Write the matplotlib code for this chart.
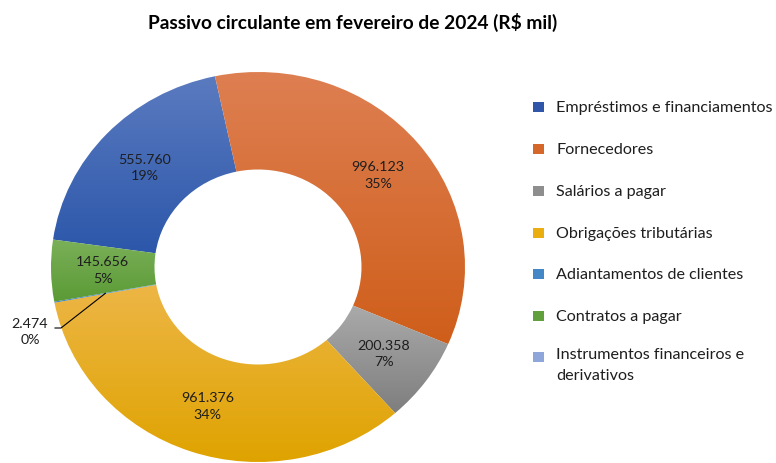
import numpy as np
import matplotlib
matplotlib.use("Agg")
import matplotlib.pyplot as plt
from matplotlib.patches import Rectangle
from matplotlib.colors import to_rgb

plt.rcParams['font.family'] = ['Lato', 'DejaVu Sans']

title = "Passivo circulante em fevereiro de 2024 (R$ mil)"
categories = ["Empréstimos e financiamentos", "Fornecedores", "Salários a pagar",
              "Obrigações tributárias", "Adiantamentos de clientes", "Contratos a pagar",
              "Instrumentos financeiros e\nderivativos"]
values = [555760, 996123, 200358, 961376, 2474, 145656, 0]
colors_top = ["#5B7BC0", "#DE7F52", "#AAAAAA", "#EDB646", "#6AA3D8", "#7BB059", "#A0B3E2"]
colors_bottom = ["#2C57AA", "#CF5E1A", "#7E7E7E", "#DFA300", "#3A7DBF", "#5A9A35", "#8099D6"]
legend_colors = ["#2F56A8", "#D6672A", "#8E8E8E", "#EBAE10", "#4487C6", "#62A03D", "#8FA6DB"]

W, H = 776, 464
fig = plt.figure(figsize=(W / 100, H / 100), dpi=100)

cx, cy, rx, ry = 258, 268, 207, 195
ax = fig.add_axes([(cx - rx) / W, (H - cy - ry) / H, 2 * rx / W, 2 * ry / H])

total = sum(values)
span0 = values[0] / total * 360
start = 102 + span0
wedges, _ = ax.pie(values, startangle=start, counterclock=False, radius=1.0,
                   wedgeprops=dict(width=0.5, edgecolor='none', linewidth=0))
ax.set_aspect('auto')
ax.axis('off')

# gradient fills clipped to each wedge
for w, v, ct, cb in zip(wedges, values, colors_top, colors_bottom):
    if v <= 0:
        w.set_visible(False)
        continue
    ext = w.get_path().get_extents()
    t = np.linspace(0, 1, 256)[:, None, None]
    grad = (1 - t) * np.array(to_rgb(ct))[None, None, :] + t * np.array(to_rgb(cb))[None, None, :]
    im = ax.imshow(grad, extent=(ext.x0, ext.x1, ext.y0, ext.y1), origin='upper',
                   aspect='auto', interpolation='bilinear', zorder=1)
    im.set_clip_path(w)
    w.set_facecolor('none')

ax.set_xlim(-1, 1)
ax.set_ylim(-1, 1)

def fmt(v):
    return f"{v:,}".replace(",", ".")

txtcol = "#1E1E1E"
lab_fs = 10.3
for w, v in zip(wedges, values):
    if v <= 0:
        continue
    mid = np.deg2rad((w.theta1 + w.theta2) / 2)
    pct = round(v / total * 100)
    lab = f"{fmt(v)}\n{pct}%"
    mx, my = 0.75 * np.cos(mid), 0.75 * np.sin(mid)
    if v / total < 0.01:
        lx, ly = (30 - cx) / rx, (cy - 332) / ry
        ex, ey = (61 - cx) / rx, (cy - 329) / ry
        hx = (55 - cx) / rx
        ax.plot([mx, ex, hx], [my, ey, ey], color='black', lw=0.8, clip_on=False, zorder=3)
        ax.text(lx, ly, lab, ha='center', va='center', fontsize=lab_fs, color=txtcol,
                linespacing=1.45, clip_on=False)
    else:
        ax.text(mx, my, lab, ha='center', va='center', fontsize=lab_fs, color=txtcol,
                linespacing=1.45, zorder=4)

fig.text(353 / W, 1 - 22 / H, title, ha='center', va='center', fontsize=13.8,
         fontweight='bold', color='black')

# legend
rows = [108, 150, 192, 234, 275, 317, 358]
for cat, col, yc in zip(categories, legend_colors, rows):
    fig.patches.append(Rectangle((533 / W, 1 - (yc + 5) / H), 11 / W, 10 / H,
                                 transform=fig.transFigure, facecolor=col, edgecolor='none'))
    t = fig.text(556 / W, 1 - yc / H, cat, ha='left', va='center',
                 fontsize=11.6, color=txtcol, linespacing=1.65)
    if '\n' in cat:
        t.set_va('top')
        t.set_y(1 - (yc - 10) / H)

fig.savefig("out.png", dpi=100)
